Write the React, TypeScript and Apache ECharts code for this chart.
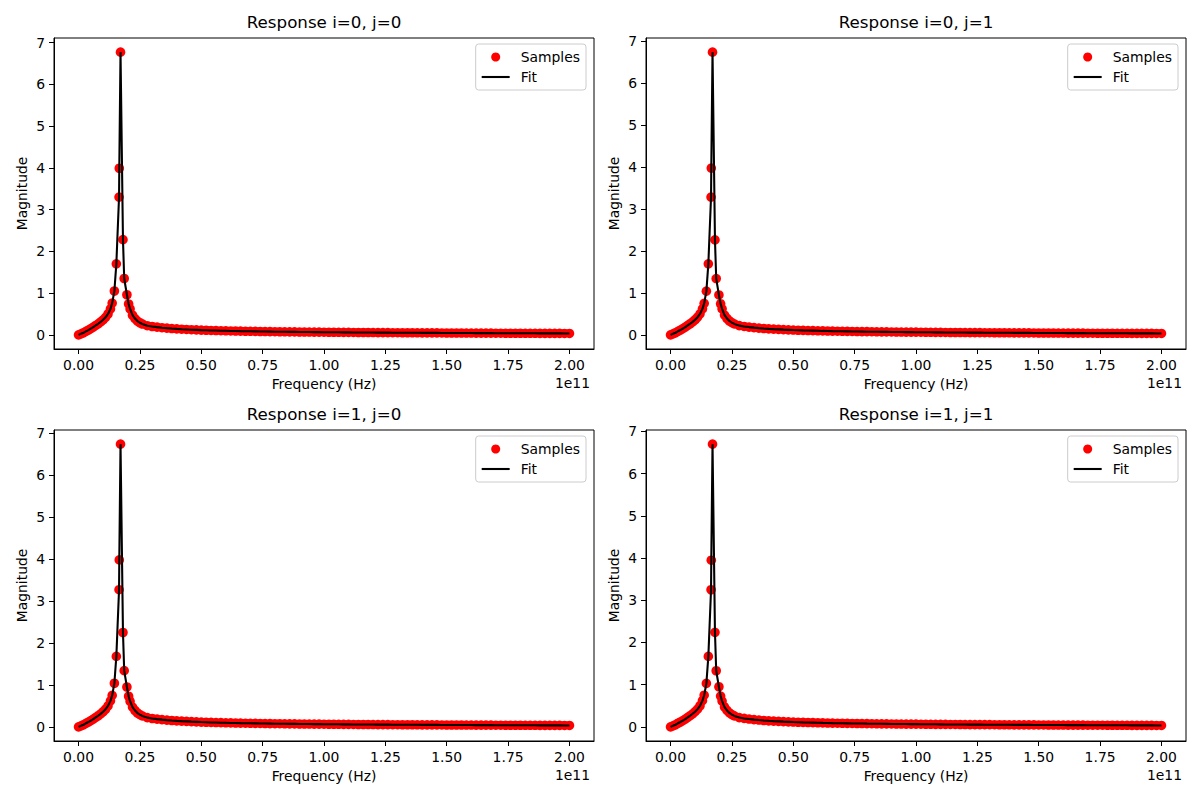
import { useEffect, useRef } from 'react';
import * as echarts from 'echarts';

const FONT = '"DejaVu Sans", sans-serif';

const titles = ['Response i=0, j=0', 'Response i=0, j=1', 'Response i=1, j=0', 'Response i=1, j=1'];

// sample frequencies around the resonance (GHz)
const lowFreqGHz = [
  0, 1, 2, 3, 4, 5, 6, 7, 8, 9, 10, 11, 12, 13,
  13.7, 14.6, 15.4, 16.5, 16.6, 17.1, 18.1, 18.6, 19.7, 20.4,
  21, 22, 23, 24, 25, 26,
];

// magnitudes at lowFreqGHz, one array per response
const magLow00 = [
  0, 0.025, 0.05, 0.085, 0.115, 0.15, 0.185, 0.225, 0.265, 0.31, 0.36, 0.42, 0.5, 0.62,
  0.76, 1.05, 1.7, 3.3, 3.99, 6.77, 2.28, 1.35, 0.96, 0.74,
  0.62, 0.47, 0.39, 0.33, 0.29, 0.26,
];
const magLow01 = [
  0, 0.025, 0.05, 0.085, 0.115, 0.15, 0.185, 0.225, 0.265, 0.31, 0.36, 0.42, 0.5, 0.62,
  0.75, 1.04, 1.69, 3.28, 3.97, 6.73, 2.26, 1.34, 0.95, 0.74,
  0.62, 0.47, 0.39, 0.33, 0.29, 0.26,
];
const magLow10 = [
  0, 0.025, 0.05, 0.085, 0.115, 0.15, 0.185, 0.225, 0.265, 0.31, 0.36, 0.42, 0.5, 0.62,
  0.75, 1.04, 1.68, 3.27, 3.98, 6.74, 2.25, 1.34, 0.95, 0.73,
  0.61, 0.47, 0.39, 0.33, 0.29, 0.26,
];
const magLow11 = [
  0, 0.025, 0.05, 0.085, 0.115, 0.15, 0.185, 0.225, 0.265, 0.31, 0.36, 0.42, 0.5, 0.62,
  0.75, 1.03, 1.67, 3.25, 3.95, 6.7, 2.24, 1.33, 0.95, 0.73,
  0.61, 0.47, 0.39, 0.33, 0.29, 0.26,
];

// high-frequency tail, same for all four responses
const tailFreqGHz = [
  28, 30, 32, 34, 36, 38, 40, 42, 44, 46,
  48, 50, 52, 54, 56, 58, 60, 62, 64, 66,
  68, 70, 72, 74, 76, 78, 80, 82, 84, 86,
  88, 90, 92, 94, 96, 98, 100, 102, 104, 106,
  108, 110, 112, 114, 116, 118, 120, 122, 124, 126,
  128, 130, 132, 134, 136, 138, 140, 142, 144, 146,
  148, 150, 152, 154, 156, 158, 160, 162, 164, 166,
  168, 170, 172, 174, 176, 178, 180, 182, 184, 186,
  188, 190, 192, 194, 196, 198, 200,
];
const tailMag = [
  0.22, 0.2, 0.185, 0.172, 0.161, 0.151, 0.143, 0.136, 0.13, 0.124,
  0.119, 0.114, 0.11, 0.106, 0.103, 0.1, 0.097, 0.094, 0.092, 0.089,
  0.087, 0.085, 0.083, 0.081, 0.079, 0.078, 0.076, 0.075, 0.073, 0.072,
  0.071, 0.069, 0.068, 0.067, 0.066, 0.065, 0.064, 0.063, 0.062, 0.061,
  0.06, 0.059, 0.058, 0.057, 0.057, 0.056, 0.055, 0.054, 0.054, 0.053,
  0.052, 0.052, 0.051, 0.05, 0.05, 0.049, 0.048, 0.048, 0.047, 0.047,
  0.046, 0.045, 0.045, 0.044, 0.044, 0.043, 0.043, 0.042, 0.042, 0.041,
  0.041, 0.04, 0.04, 0.039, 0.039, 0.038, 0.038, 0.037, 0.037, 0.037,
  0.036, 0.036, 0.035, 0.035, 0.035, 0.034, 0.034,
];

const xTicks = [0, 0.25, 0.5, 0.75, 1, 1.25, 1.5, 1.75, 2];
const yTicks = [0, 1, 2, 3, 4, 5, 6, 7];

const panels = [magLow00, magLow01, magLow10, magLow11];

const colLeft = [54, 646];
const rowTop = [38, 430];
const W = 540;
const H = 311;

export default function App() {
  const ref = useRef<HTMLDivElement>(null);

  useEffect(() => {
    if (!ref.current) return;
    const chart = echarts.init(ref.current, null, { renderer: 'svg' });

    const grid: any[] = [];
    const xAxis: any[] = [];
    const yAxis: any[] = [];
    const series: any[] = [];
    const legend: any[] = [];
    const graphic: any[] = [];

    panels.forEach((mags, k) => {
      const left = colLeft[k % 2];
      const top = rowTop[Math.floor(k / 2)];
      // frequencies plotted in units of 1e11 Hz
      const pts = lowFreqGHz.map((f, i) => [f / 100, mags[i]])
        .concat(tailFreqGHz.map((f, i) => [f / 100, tailMag[i]]));
      const peak = Math.max(...mags, ...tailMag);

      grid.push({ left, top, width: W, height: H, show: true, borderColor: '#000', borderWidth: 1 });

      xAxis.push({
        gridIndex: k, type: 'value', min: -0.1, max: 2.1,
        name: 'Frequency (Hz)', nameLocation: 'middle', nameGap: 28,
        nameTextStyle: { fontFamily: FONT, fontSize: 13.9, color: '#000' },
        axisLine: { show: true, onZero: false, lineStyle: { color: '#000', width: 1 } },
        axisTick: { show: true, inside: false, length: 5, customValues: xTicks, lineStyle: { color: '#000', width: 1 } },
        axisLabel: {
          customValues: xTicks, margin: 9, color: '#000', fontFamily: FONT, fontSize: 13.9,
          formatter: (v: number) => v.toFixed(2),
        },
        splitLine: { show: false },
      });

      yAxis.push({
        gridIndex: k, type: 'value', min: -0.05 * peak, max: 1.05 * peak,
        name: 'Magnitude', nameLocation: 'middle', nameGap: 25,
        nameTextStyle: { fontFamily: FONT, fontSize: 13.9, color: '#000' },
        axisLine: { show: true, onZero: false, lineStyle: { color: '#000', width: 1 } },
        axisTick: { show: true, inside: false, length: 5, customValues: yTicks, lineStyle: { color: '#000', width: 1 } },
        axisLabel: {
          customValues: yTicks, margin: 9, color: '#000', fontFamily: FONT, fontSize: 13.9,
          formatter: (v: number) => String(v),
        },
        splitLine: { show: false },
      });

      series.push({
        name: 'Samples', type: 'scatter', xAxisIndex: k, yAxisIndex: k,
        data: pts, symbol: 'circle', symbolSize: 9.6, z: 2, silent: true,
        itemStyle: { color: '#ff0000', opacity: 1 },
      });
      series.push({
        name: 'Fit', type: 'line', xAxisIndex: k, yAxisIndex: k,
        data: pts, symbol: 'none', showSymbol: false, z: 3, silent: true,
        lineStyle: { color: '#000', width: 2.08 },
        itemStyle: { color: '#000' },
      });

      legend.push({
        orient: 'vertical', right: 1200 - (left + W - 8), top: top + 6,
        data: [
          { name: 'Samples', icon: 'circle' },
          { name: 'Fit', icon: 'path://M0,0L28,0L28,2.1L0,2.1Z', itemStyle: { color: '#000' } },
        ],
        itemWidth: 28, itemHeight: 9, itemGap: 6, padding: [6, 6, 6, 6],
        backgroundColor: 'rgba(255,255,255,0.8)', borderColor: '#cccccc', borderWidth: 1, borderRadius: 3,
        selectedMode: false,
        textStyle: { fontFamily: FONT, fontSize: 13.9, color: '#000', padding: [0, 0, 0, 6] },
      });

      graphic.push({
        type: 'text', x: left + W / 2, y: top - 16,
        style: { text: titles[k], font: `16.7px ${FONT}`, fill: '#000', align: 'center', verticalAlign: 'middle' },
      });
      graphic.push({
        type: 'text', x: left + W - 4, y: top + H + 34,
        style: { text: '1e11', font: `13.9px ${FONT}`, fill: '#000', align: 'right', verticalAlign: 'middle' },
      });
    });

    chart.setOption({
      animation: false,
      backgroundColor: '#fff',
      textStyle: { fontFamily: FONT },
      grid, xAxis, yAxis, series, legend, graphic,
    });

    return () => chart.dispose();
  }, []);

  return <div ref={ref} style={{ position: 'fixed', left: 0, top: 0, width: 1200, height: 800 }} />;
}
